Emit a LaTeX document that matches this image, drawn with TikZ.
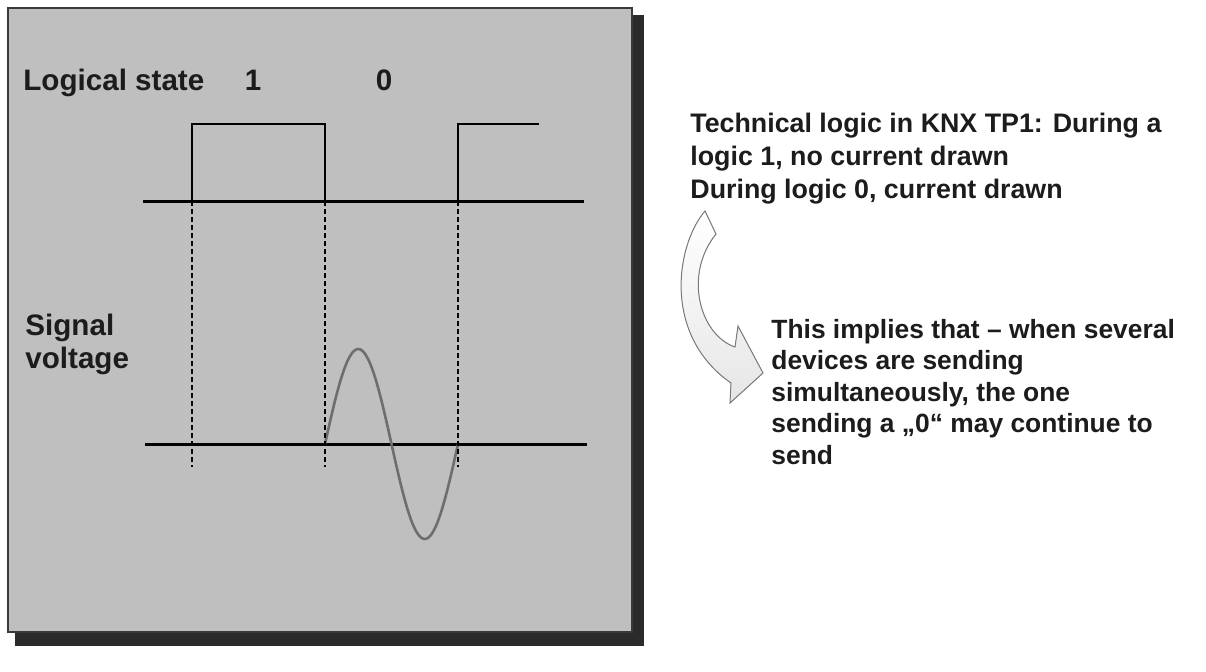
\documentclass[tikz,border=0pt]{standalone}
\usepackage{fontspec}
\setmainfont{Liberation Sans}
\usetikzlibrary{positioning}
\definecolor{ink}{HTML}{1C1C1C}
\definecolor{panel}{HTML}{BFBFBF}
\definecolor{panelline}{HTML}{3A3A3A}
\definecolor{shadowc}{HTML}{2B2B2B}
\definecolor{wave}{HTML}{6E6E6E}
\definecolor{bend}{HTML}{E6E6E6}
\definecolor{bendline}{HTML}{7A7A7A}

\begin{document}
\begin{tikzpicture}[
  x=0.5pt, y=-0.5pt, color=ink,
  lbl/.style={font=\bfseries\fontsize{14.8}{17}\selectfont, inner sep=0pt, anchor=base west},
  note/.style={font=\bfseries\fontsize{13.4}{16.5}\selectfont, inner sep=0pt, anchor=base west, align=left},
  axis/.style={line width=1.5pt, color=black},
  level/.style={line width=1.4pt, color=black},
  edge/.style={line width=0.8pt, color=black, dash pattern=on 2.5pt off 1.5pt},
  sig/.style={line width=1.3pt, color=wave},
]
\useasboundingbox (0,0) rectangle (1206,671);

% panel with shadow
\fill[shadowc] (15,15) rectangle (644,646);
\filldraw[fill=panel, draw=panelline, line width=0.6pt] (8,8) rectangle (632,632);

% labels
\node[lbl] (lstate) at (23,90) {Logical state};
\node[lbl, anchor=base] (one) at (253,90) {1};
\node[lbl, anchor=base] (zero) at (384,90) {0};
\node[lbl] (sigv) at (25,335) {Signal};
\node[lbl] (volt) at (25,368) {voltage};

% logic level
\coordinate (t0) at (143,201);
\coordinate (t1) at (584,201);
\draw[axis] (t0) -- (t1);
\draw[level] (192,201) -- (192,124) -- (325,124) -- (325,201);
\draw[level] (458,201) -- (458,124) -- (539,124);

% signal voltage
\coordinate (v0) at (145,444);
\coordinate (v1) at (587,444);
\draw[axis] (v0) -- (v1);
\draw[sig] plot[domain=0:360, samples=80, smooth] ({325+\x/360*133}, {444-95*sin(\x)});

% edges
\foreach \xe in {192,325,458}
  \draw[edge] (\xe,201) -- (\xe,467);

% notes (anchored at the last line)
\node[note] (tech) at (690,198) {Technical logic in KNX TP1: During a\\logic 1, no current drawn\\During logic 0, current drawn};
\node[note, font=\bfseries\fontsize{13.2}{15.75}\selectfont] (imply) at (771,464)
  {This implies that – when several\\devices are sending\\simultaneously, the one\\sending a „0“ may continue to\\send};

% bent arrow
\filldraw[top color=white, bottom color=bend, draw=bendline, line width=0.5pt]
  (705,211) .. controls (676,245) and (662,335) .. (731,383)
  -- (730,403) -- (763,373) -- (738,326) -- (735,347)
  .. controls (700,335) and (683,275) .. (716,234) -- cycle;
\end{tikzpicture}
\end{document}
